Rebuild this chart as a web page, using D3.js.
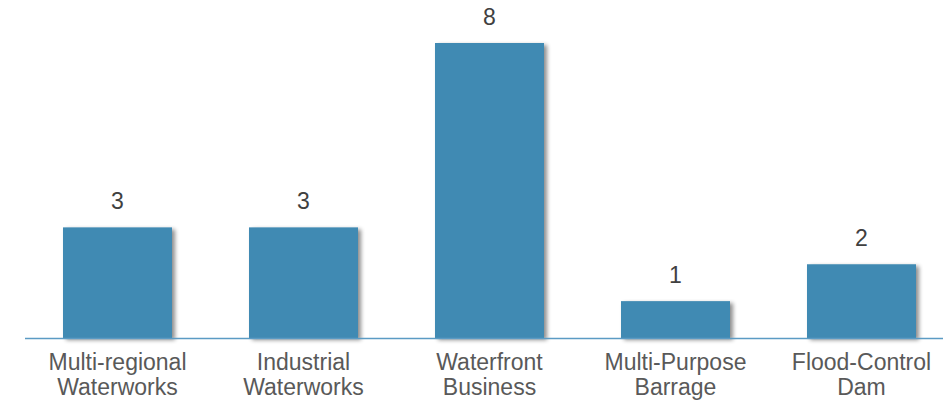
<!DOCTYPE html>
<html>
<head>
<meta charset="utf-8">
<script src="https://cdn.jsdelivr.net/npm/d3@7"></script>
<style>
  body { margin: 0; background: #fff; }
  text { font-family: "Liberation Sans", Arial, sans-serif; }
</style>
</head>
<body>
<div id="container"></div>
<script>
/* CONSTANTS AND GLOBALS */
const width = 943;
const height = 401;
const baseline = 338;

const categories = [["Multi-regional", "Waterworks"], ["Industrial", "Waterworks"], ["Waterfront", "Business"], ["Multi-Purpose", "Barrage"], ["Flood-Control", "Dam"]];
const values = [3, 3, 8, 1, 2];

const data = categories.map((c, i) => ({ key: c.join(" "), lines: c, value: values[i] }));

/* SCALES */
const xScale = d3.scaleBand()
  .domain(data.map(d => d.key))
  .range([24.5, 954.5])
  .paddingInner(0.414)
  .paddingOuter(0.207);

const yScale = d3.scaleLinear()
  .domain([0, 8])
  .range([baseline, 43]);

const svg = d3.select("#container")
  .append("svg")
  .attr("width", width)
  .attr("height", height);

// shadow
const defs = svg.append("defs");
const f = defs.append("filter").attr("id", "shadow")
  .attr("x", "-10%").attr("y", "-10%").attr("width", "130%").attr("height", "130%");
f.append("feGaussianBlur").attr("in", "SourceAlpha").attr("stdDeviation", 2);
f.append("feOffset").attr("dx", 3).attr("dy", 2).attr("result", "b");
f.append("feComponentTransfer").append("feFuncA").attr("type", "linear").attr("slope", 0.45);
const m = f.append("feMerge");
m.append("feMergeNode");
m.append("feMergeNode").attr("in", "SourceGraphic");

// bars
svg.selectAll("rect.bar")
  .data(data)
  .join("rect")
  .attr("class", "bar")
  .attr("x", d => xScale(d.key))
  .attr("y", d => yScale(d.value))
  .attr("width", xScale.bandwidth())
  .attr("height", d => baseline - yScale(d.value))
  .attr("fill", "#418AB3")
  .attr("filter", "url(#shadow)");

// axis line
svg.append("line")
  .attr("x1", 25).attr("x2", width)
  .attr("y1", baseline + 0.5).attr("y2", baseline + 0.5)
  .attr("stroke", "#5B9BC4")
  .attr("stroke-width", 1.3);

// value labels
svg.selectAll("text.val")
  .data(data)
  .join("text")
  .attr("class", "val")
  .attr("x", d => xScale(d.key) + xScale.bandwidth() / 2)
  .attr("y", d => yScale(d.value) - 18.5)
  .attr("text-anchor", "middle")
  .style("font-size", "23px")
  .style("fill", "#404040")
  .text(d => d.value);

// category labels
const cat = svg.selectAll("text.cat")
  .data(data)
  .join("text")
  .attr("class", "cat")
  .attr("x", d => xScale(d.key) + xScale.bandwidth() / 2)
  .attr("y", 369.5)
  .attr("text-anchor", "middle")
  .style("font-size", "23px")
  .style("fill", "#595959");

cat.selectAll("tspan")
  .data(d => d.lines)
  .join("tspan")
  .attr("x", function () { return d3.select(this.parentNode).attr("x"); })
  .attr("dy", (d, i) => i === 0 ? 0 : 25)
  .text(d => d);
</script>
</body>
</html>
